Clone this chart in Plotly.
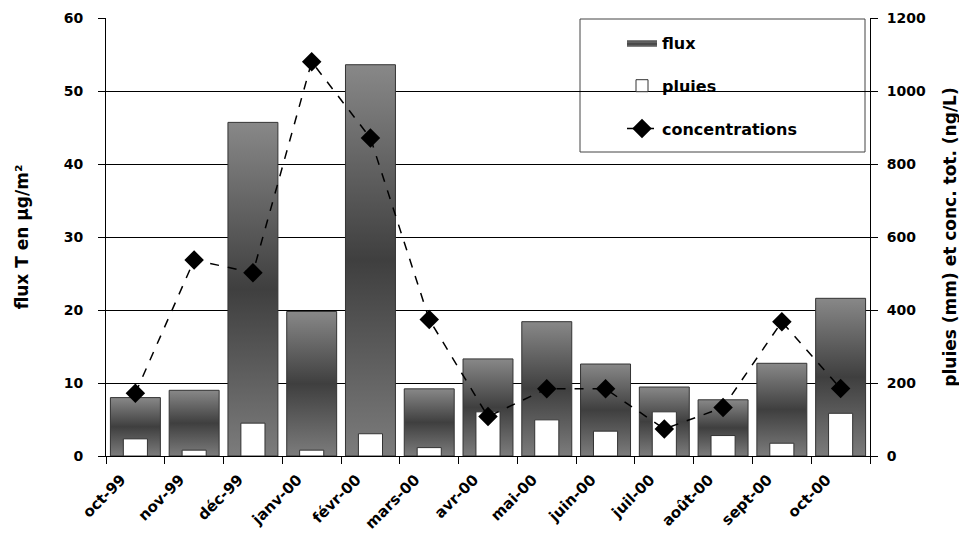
import plotly.graph_objects as go

months = ["oct-99", "nov-99", "déc-99", "janv-00", "févr-00", "mars-00", "avr-00",
          "mai-00", "juin-00", "juil-00", "août-00", "sept-00", "oct-00"]
flux = [8.0, 9.0, 45.7, 19.8, 53.6, 9.2, 13.3, 18.4, 12.6, 9.45, 7.7, 12.7, 21.6]
pluies = [47, 16, 90, 16, 61, 23, 121, 99, 68, 121, 56, 35, 117]
concentrations = [172, 537, 502, 1080, 871, 374, 108, 184, 184, 74, 133, 368, 185]

FONT = "DejaVu Sans, Arial, sans-serif"
flux_w = 0.85
pluie_w = 0.41
grad = [[0, "#7c7c7c"], [0.5, "#3f3f3f"], [1, "#888888"]]

# page body has an 8px margin: plot area wanted at x 106-870, y 18-456 on screen
ML, MT, MR, MB = 98, 10, 105, 95
PW, PH = 967 - ML - MR, 543 - MT - MB


def px(x):
    return (x - 8 - ML) / PW


def py(y):
    return 1 - (y - 8 - MT) / PH


fig = go.Figure()

# flux bars with vertical gradient (one filled shape per bar, from the data)
for i, v in enumerate(flux):
    x0, x1 = i - flux_w / 2, i + flux_w / 2
    fig.add_trace(go.Scatter(
        x=[x0, x1, x1, x0, x0], y=[0, 0, v, v, 0],
        mode="lines", fill="toself",
        fillgradient=dict(type="vertical", colorscale=grad),
        line=dict(color="#333333", width=1),
        name="flux", legendgroup="flux", showlegend=(i == 0),
        hoverinfo="skip", yaxis="y",
    ))

fig.add_trace(go.Bar(
    x=list(range(len(months))), y=pluies, width=pluie_w,
    marker=dict(color="white", line=dict(color="#333333", width=1)),
    name="pluies", legendgroup="pluies", yaxis="y2",
))

fig.add_trace(go.Scatter(
    x=list(range(len(months))), y=concentrations,
    mode="lines+markers",
    line=dict(color="black", width=1.5, dash="dash"),
    marker=dict(symbol="diamond", size=15, color="black"),
    name="concentrations", legendgroup="conc", yaxis="y2",
))

tickfont = dict(family=FONT, size=14, color="black", weight="bold")
xtickfont = dict(family=FONT, size=15, color="black", weight="bold")
titlefont = dict(family=FONT, size=17, color="black", weight="bold")

fig.update_layout(
    width=967, height=543,
    margin=dict(l=ML, r=MR, t=MT, b=MB, autoexpand=False),
    paper_bgcolor="white", plot_bgcolor="white",
    barmode="overlay",
    font=dict(family=FONT, color="black"),
    xaxis=dict(
        automargin=False,
        range=[-0.5, len(months) - 0.5],
        tickmode="array", tickvals=list(range(len(months))), ticktext=months,
        tickangle=-45, ticks="", tickfont=xtickfont,
        ticklabelshift=-14, ticklabelstandoff=8,
        showline=True, linecolor="black", linewidth=1,
        showgrid=False, zeroline=False,
        minor=dict(tickmode="array", tickvals=[i - 0.5 for i in range(len(months) + 1)],
                   ticks="outside", ticklen=7, tickcolor="black", tickwidth=1, showgrid=False),
    ),
    yaxis=dict(
        automargin=False,
        range=[0, 60], tickvals=[0, 10, 20, 30, 40, 50, 60],
        ticks="outside", ticklen=7, tickcolor="black",
        tickfont=tickfont, ticklabelstandoff=12,
        showline=True, linecolor="black", linewidth=1,
        showgrid=True, gridcolor="black", gridwidth=1, zeroline=False,
        title=dict(text="flux T en µg/m²", font=titlefont, standoff=30),
    ),
    yaxis2=dict(
        automargin=False,
        range=[0, 1200], tickvals=[0, 200, 400, 600, 800, 1000, 1200],
        overlaying="y", side="right",
        ticks="outside", ticklen=7, tickcolor="black",
        tickfont=tickfont, ticklabelstandoff=6,
        showline=True, linecolor="black", linewidth=1,
        showgrid=False, zeroline=False,
        title=dict(text="pluies (mm) et conc. tot. (ng/L)", font=titlefont, standoff=19),
    ),
    legend=dict(
        x=px(622), y=py(26), xanchor="left", yanchor="top",
        bgcolor="rgba(0,0,0,0)", borderwidth=0,
        font=dict(family=FONT, size=16, color="black", weight="bold"),
        traceorder="grouped", tracegroupgap=19,
    ),
    shapes=[dict(
        type="rect", xref="paper", yref="paper",
        x0=px(580), x1=px(865), y0=py(152), y1=py(19),
        line=dict(color="#444444", width=1), fillcolor="white", layer="below",
    )],
)

fig.write_html("out.html")
